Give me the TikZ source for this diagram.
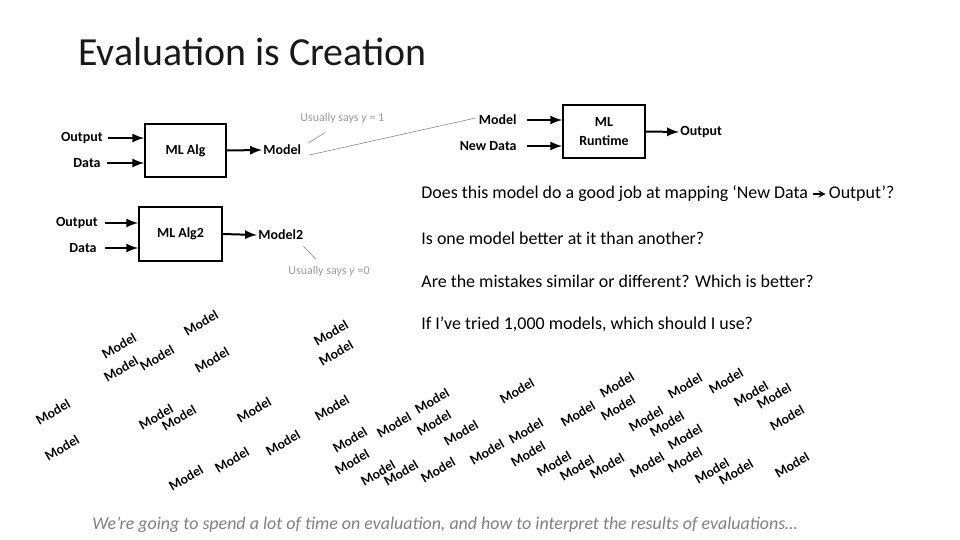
\documentclass[tikz,border=0pt]{standalone}
\usepackage{fontspec}
\setmainfont{Carlito}
\newfontfamily\latofont{Lato}
\begin{document}
\begin{tikzpicture}[x=0.0166667cm,y=0.0166667cm,
  lbl/.style={font=\bfseries\fontsize{6.61}{7.56}\selectfont, inner sep=0.47pt},
  box/.style={draw, line width=0.945pt, align=center, font=\bfseries\fontsize{6.61}{8.98}\selectfont},
  arr/.style={line width=0.945pt, -latex},
  note/.style={text=black!40, font=\fontsize{5.67}{6.6}\selectfont, inner sep=0.47pt},
  noteline/.style={black!45, line width=0.3pt},
  q/.style={font=\fontsize{8.5}{9.92}\selectfont, anchor=west, inner sep=0pt},
  qarr/.style={line width=0.5pt, -stealth},
  mdl/.style={rotate=30},
]
\useasboundingbox (0,0) rectangle (960,-540);

% scattered models (drawn first)
\foreach \px/\py [count=\i] in {
 119/346, 121/369, 157/358, 201/323, 212/360, 331/333, 336/353,
 53/412, 62/448, 156/417, 179/418, 254/410, 332/408, 283/443,
 232/460, 186/478, 350/440, 394/425, 352/462, 378/473, 401/473,
 432/401, 434/423, 438/470, 461/433, 487/452, 517/391, 526/431,
 528/454, 578/414, 617/385, 618/408, 554/464, 577/468, 607/466,
 646/419, 667/424, 647/465, 685/386, 726/381, 751/394, 774/396,
 787/418, 685/437, 685/460, 712/471, 736/472, 792/465}
  \node[mdl] (m\i) at (\px,-\py) {\latofont\bfseries\fontsize{6.1}{7}\selectfont Model};

\node[anchor=west, font=\fontsize{18.9}{21.7}\selectfont, text=black!90] (title) at (71,-52) {Evaluation is Creation};

% top-left diagram
\node[box, minimum width=38.27pt, minimum height=25.04pt] (alg1) at (185.5,-150.5) {ML Alg};
\node[lbl, anchor=east] (out1) at (104,-138) {Output};
\node[lbl, anchor=east] (data1) at (102,-163) {Data};
\draw[arr] ([shift={(4,0)}]out1.east) -- (out1.east -| alg1.west);
\draw[arr] ([shift={(5,0)}]data1.east) -- (data1.east -| alg1.west);
\node[lbl, anchor=west] (model1) at (262,-150) {Model};
\draw[arr] (alg1.east) -- (model1.west);
\node[note, anchor=west] (note1) at (299,-118) {Usually says \textit{y} = 1};

% top-right diagram
\node[box, minimum width=38.74pt, minimum height=25.04pt] (rt) at (604,-131.5) {ML\\Runtime};
\node[lbl, anchor=east] (rmodel) at (518,-120) {Model};
\node[lbl, anchor=east] (ndata) at (518,-146) {New Data};
\draw[arr] ([shift={(9,0)}]rmodel.east) -- (rmodel.east -| rt.west);
\draw[arr] ([shift={(9,0)}]ndata.east) -- (ndata.east -| rt.west);
\node[lbl, anchor=west] (rout) at (679,-132) {Output};
\draw[arr] (rt.east) -- (rout.west);

\draw[noteline] ([shift={(6,7)}]model1.east) -- ([shift={(26,-8)}]note1.south west);
\draw[noteline] ([shift={(7,-5)}]model1.east) -- ([shift={(-2,2)}]rmodel.west);

% second diagram
\node[box, minimum width=39.21pt, minimum height=25.51pt] (alg2) at (180.5,-234) {ML Alg2};
\node[lbl, anchor=east] (out2) at (99,-223) {Output};
\node[lbl, anchor=east] (data2) at (98,-248) {Data};
\draw[arr] ([shift={(6,0)}]out2.east) -- (out2.east -| alg2.west);
\draw[arr] ([shift={(7,0)}]data2.east) -- (data2.east -| alg2.west);
\node[lbl, anchor=west] (model2) at (257,-235) {Model2};
\draw[arr] (alg2.east) -- (model2.west);
\node[note] (note2) at (329,-271) {Usually says \textit{y} =0};
\draw[noteline] ([shift={(-1,-5)}]model2.south east) -- ([shift={(-13,5)}]note2.north);

% questions
\node[q] (q1a) at (421,-194) {Does this model do a good job at mapping ‘New Data};
\node[q] (q1b) at ([shift={(20,0)}]q1a.east) {Output’?};
\draw[qarr] ([shift={(4,0)}]q1a.east) -- ([shift={(-3,0)}]q1b.west);
\node[q] (q2) at (421,-238) {Is one model better at it than another?};
\node[q] (q3) at (421,-281) {Are the mistakes similar or different? Which is better?};
\node[q] (q4) at (421,-324) {If I’ve tried 1,000 models, which should I use?};

\node[anchor=west, inner sep=0pt, text=black!50, font=\itshape\fontsize{8.5}{9.5}\selectfont] (foot) at (92,-525) {We’re going to spend a lot of time on evaluation, and how to interpret the results of evaluations…};
\end{tikzpicture}
\end{document}
